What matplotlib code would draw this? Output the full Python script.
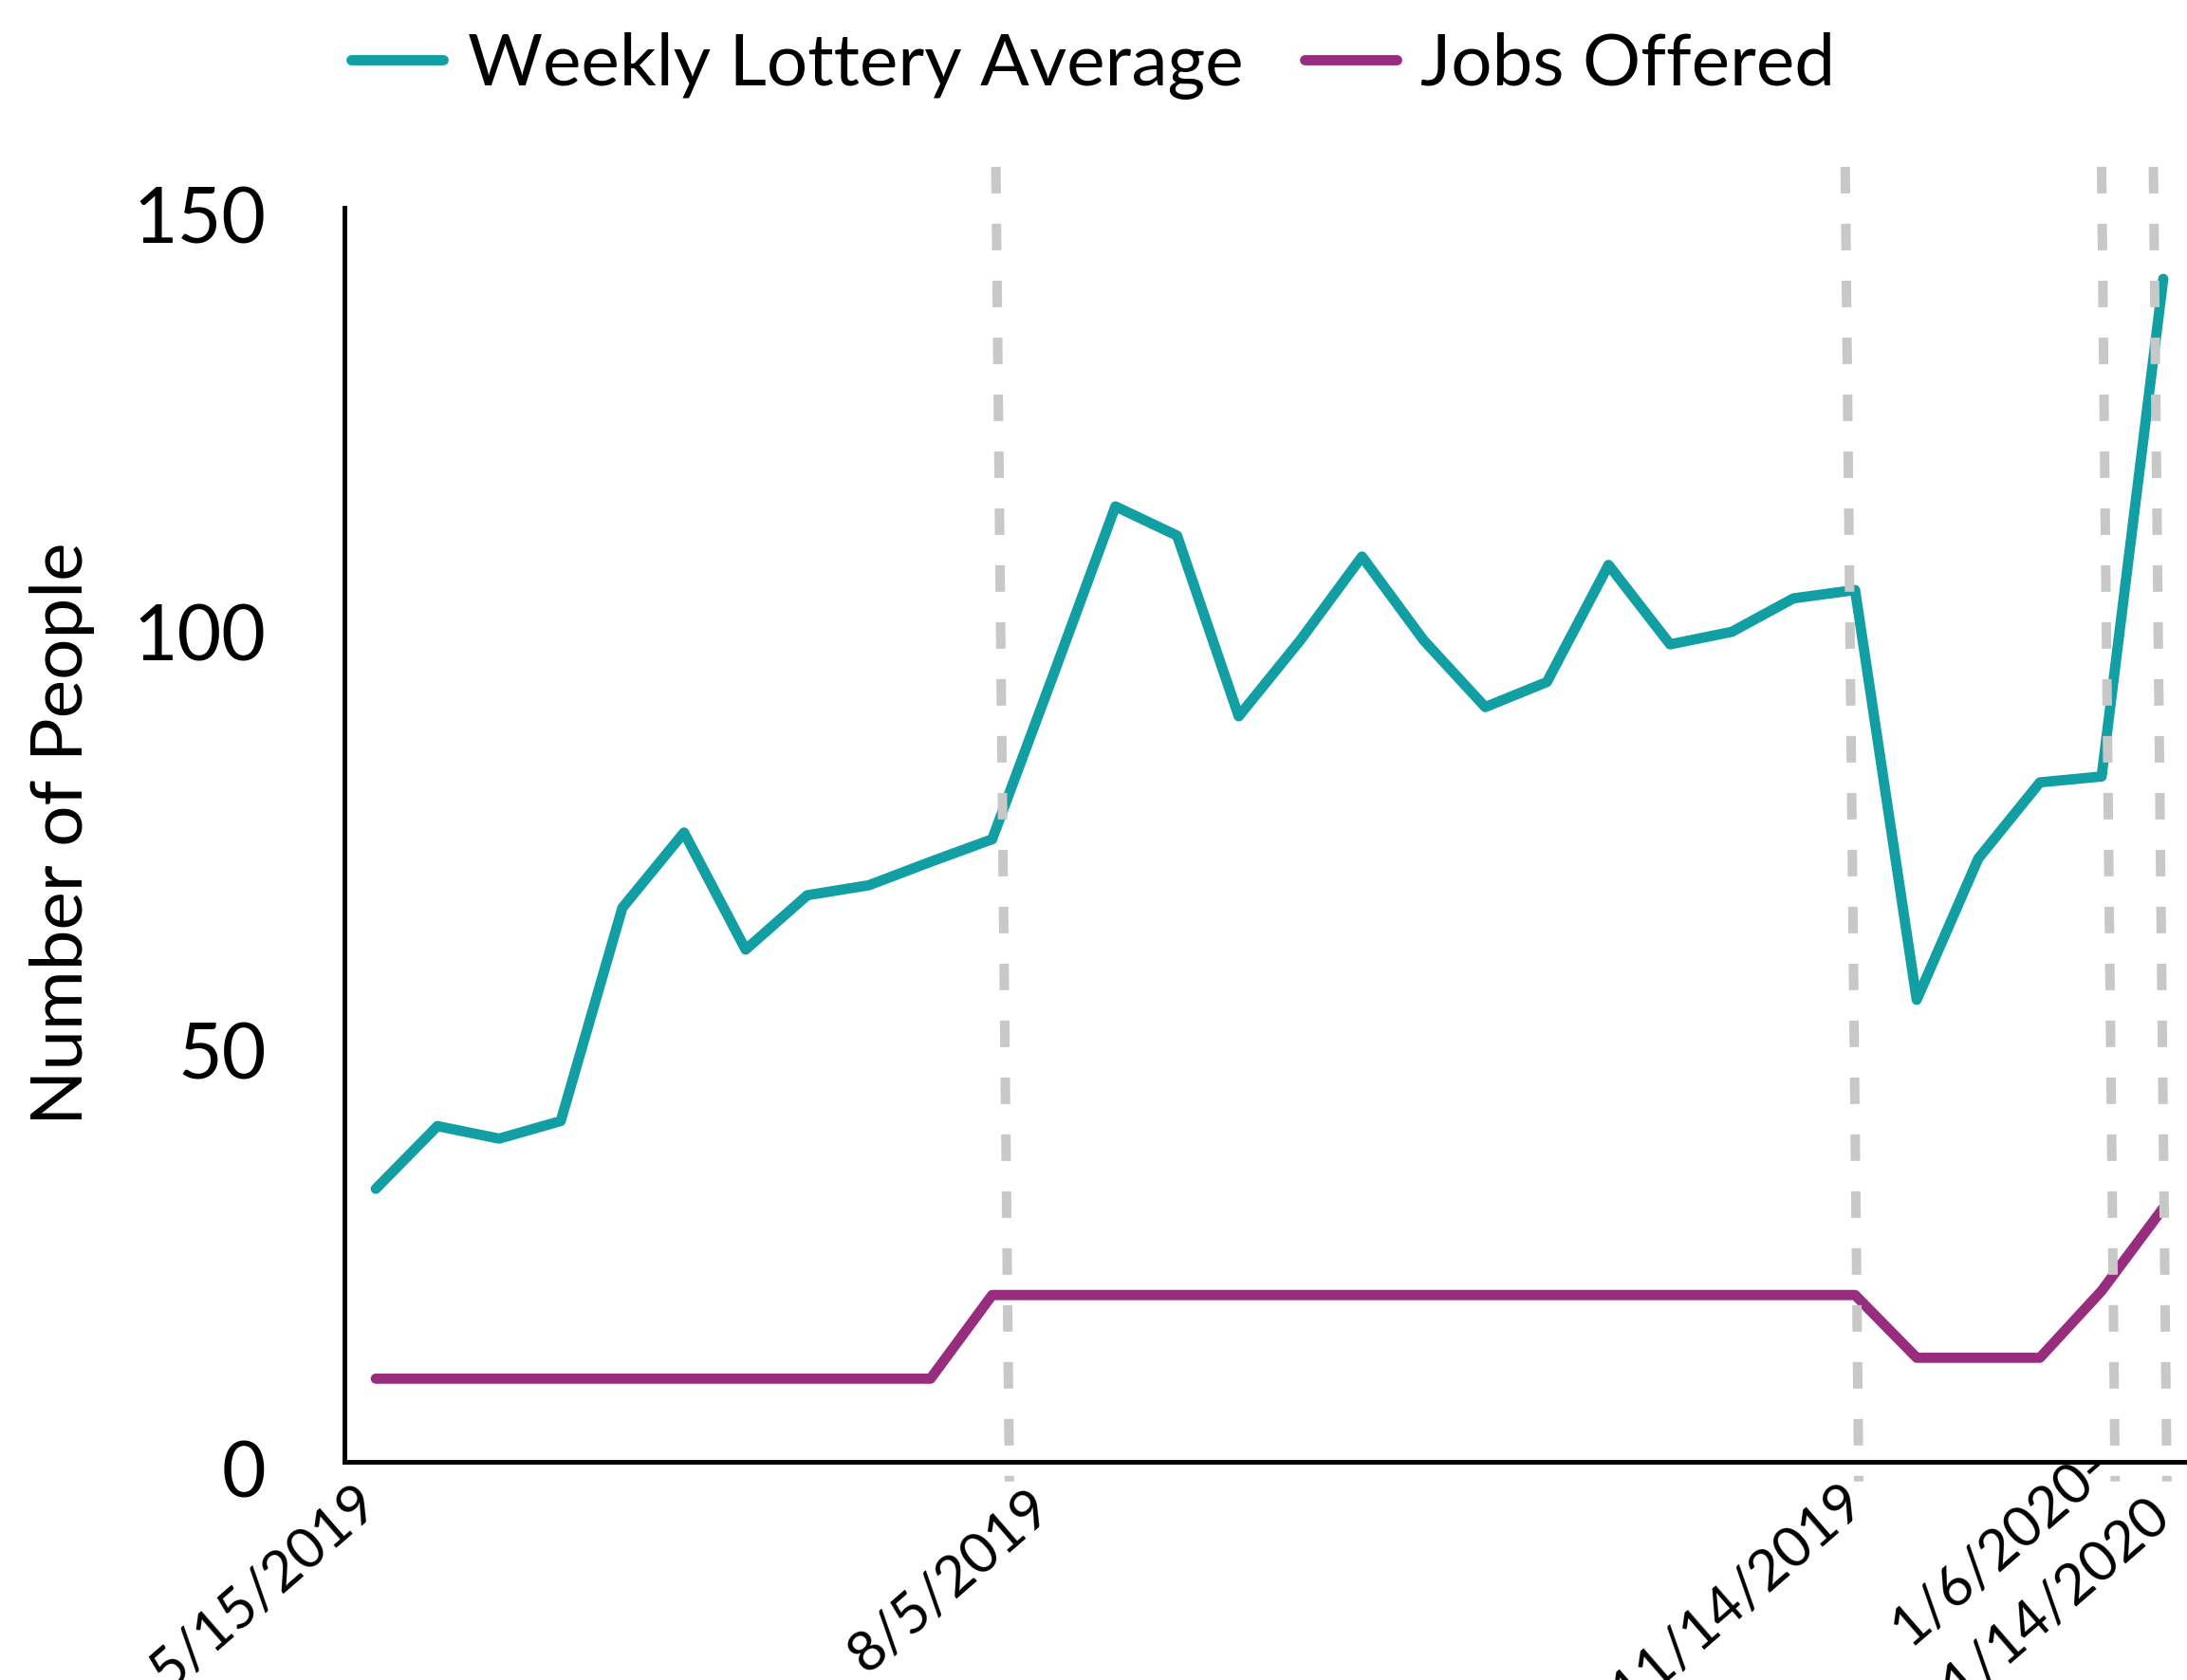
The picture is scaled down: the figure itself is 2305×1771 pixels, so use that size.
import matplotlib
matplotlib.use('Agg')
import matplotlib.pyplot as plt
from matplotlib.transforms import ScaledTranslation
import numpy as np

plt.rcParams['font.family'] = ['Lato', 'DejaVu Sans']

# weekly values
weeks = np.arange(30)
lottery = [32.7, 40.2, 38.7, 40.8, 66.3, 75.3, 61.3, 67.8, 69.0, 71.8,
           74.5, 94.3, 114.3, 110.8, 89.2, 98.3, 108.3, 98.3, 90.3, 93.3,
           107.3, 97.8, 99.3, 103.3, 104.3, 55.3, 72.2, 81.3, 82.0, 141.5]
jobs = [10, 10, 10, 10, 10, 10, 10, 10, 10, 10,
        20, 20, 20, 20, 20, 20, 20, 20, 20, 20,
        20, 20, 20, 20, 20, 12.5, 12.5, 12.5, 20.5, 30.4]

tick_idx = [0, 10, 24, 28, 29]
tick_labels = ['5/15/2019', '8/5/2019', '11/14/2019', '1/6/2020-', '1/14/2020']
event_idx = [10, 24, 28, 29]

teal = '#119fa4'
purple = '#982c7d'
grey = '#c8c8c8'

fig = plt.figure(figsize=(23.05, 17.71), dpi=100)
ax = fig.add_axes([0.1573, 0.1296, 0.8417, 0.7467])

ax.plot(weeks, lottery, color=teal, lw=7.8, solid_capstyle='round',
        solid_joinstyle='round', label='Weekly Lottery Average')
ax.plot(weeks, jobs, color=purple, lw=7.8, solid_capstyle='round',
        solid_joinstyle='round', label='Jobs Offered')

# dashed event markers (slightly slanted like the original)
shift = [0.06, -0.16, 0.0, -0.16]
for e, s in zip(event_idx, shift):
    ax.plot([e + s, e + s + 0.22], [154.9, -2.3], color=grey, lw=7.2,
            dashes=(2.8, 3.2), dash_capstyle='butt', clip_on=False, zorder=5)

ax.set_xlim(-0.516, 29.35)
ax.set_ylim(0, 150)
ax.set_yticks([0, 50, 100, 150])
ax.tick_params(axis='y', length=0, pad=59, labelsize=58)
ax.tick_params(axis='x', length=0, pad=0, labelsize=43)
for lab in ax.get_yticklabels():
    lab.set_transform(lab.get_transform() +
                      ScaledTranslation(0, -0.07, fig.dpi_scale_trans))

ax.set_xticks(tick_idx)
ax.set_xticklabels(tick_labels, rotation=41, ha='right', va='top',
                   rotation_mode='anchor')
# nudges (pixels) so the labels sit where they do in the original
nudges = [(-24, 14), (36, 19), (-17, 12), (-18, -24), (-19, 27)]
for lab, (dx, dy) in zip(ax.get_xticklabels(), nudges):
    lab.set_transform(lab.get_transform() +
                      ScaledTranslation(dx / 100, -dy / 100, fig.dpi_scale_trans))

for side in ['top', 'right']:
    ax.spines[side].set_visible(False)
for side in ['left', 'bottom']:
    ax.spines[side].set_linewidth(3.5)
    ax.spines[side].set_color('black')

fig.text(66 / 2305, 0.504, 'Number of People', rotation=90, ha='center',
         va='center', fontsize=55)

fig.legend(loc='center', bbox_to_anchor=(0.5, 0.961), ncol=2, frameon=False,
           fontsize=55, handlelength=1.27, handletextpad=0.33,
           columnspacing=0.85)

fig.savefig('out.png', dpi=100)
